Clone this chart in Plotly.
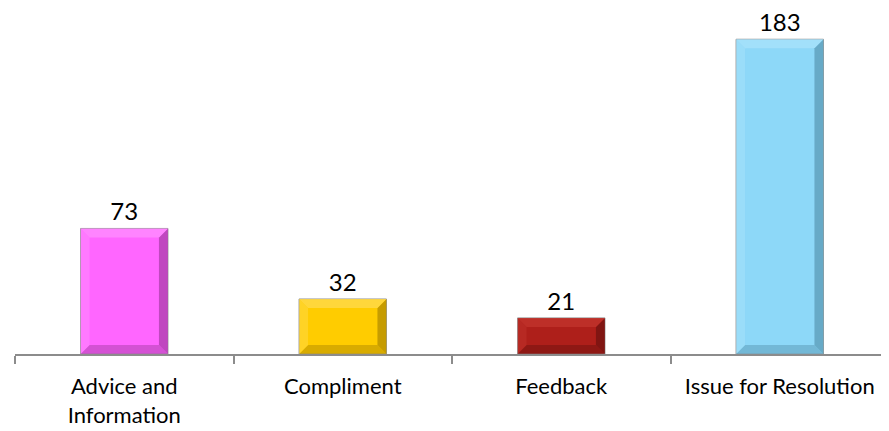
import plotly.graph_objects as go

categories = ["Advice and<br>Information", "Compliment", "Feedback", "Issue for Resolution"]
values = [73, 32, 21, 183]
colors = ["#FF66FF", "#FFCC00", "#AE1F1A", "#8DD8F8"]
dark_colors = ["#B040B0", "#B89000", "#741310", "#5E9FBA"]
light_colors = ["#FF8CFF", "#FFDA4A", "#C0332C", "#A8E2FA"]

W, H = 881, 423
ML, MR, MT, MB = 7, 0, 2, 77
YMAX = 200
BAR_W = 0.4

fig = go.Figure(go.Bar(
    x=list(range(len(categories))), y=values,
    marker=dict(color=colors, line=dict(color="#9A9A9A", width=1)),
    text=[str(v) for v in values], textposition="outside",
    textfont=dict(size=24, color="black", family="Lato"),
    cliponaxis=False, width=BAR_W,
))

# bevel decoration derived from the bar geometry
px_x = (W - ML - MR) / len(categories)
px_y = (H - MT - MB) / YMAX
bx = 9 / px_x
by = 9 / px_y
for i, v in enumerate(values):
    x0, x1 = i - BAR_W / 2, i + BAR_W / 2
    fig.add_shape(type="path", xref="x", yref="y",
                  path=f"M {x1},{0} L {x1},{v} L {x1-bx},{v-by} L {x1-bx},{by} Z",
                  fillcolor=dark_colors[i], line=dict(width=0), opacity=0.8)
    fig.add_shape(type="path", xref="x", yref="y",
                  path=f"M {x0},{0} L {x1},{0} L {x1-bx},{by} L {x0+bx},{by} Z",
                  fillcolor=dark_colors[i], line=dict(width=0), opacity=0.55)
    fig.add_shape(type="path", xref="x", yref="y",
                  path=f"M {x0},{v} L {x1},{v} L {x1-bx},{v-by} L {x0+bx},{v-by} Z",
                  fillcolor=light_colors[i], line=dict(width=0), opacity=0.8)
    fig.add_shape(type="path", xref="x", yref="y",
                  path=f"M {x0},{0} L {x0},{v} L {x0+bx},{v-by} L {x0+bx},{by} Z",
                  fillcolor=light_colors[i], line=dict(width=0), opacity=0.5)

fig.update_layout(
    width=W, height=H,
    margin=dict(l=ML, r=MR, t=MT, b=MB, autoexpand=False),
    paper_bgcolor="white", plot_bgcolor="white",
    showlegend=False,
    font=dict(family="Lato", size=22, color="black"),
)
fig.update_xaxes(range=[-0.5, len(categories) - 0.5],
                 tickmode="array", tickvals=list(range(len(categories))), ticktext=categories,
                 showline=True, linecolor="#8C8C8C", linewidth=1.5,
                 ticks="", automargin=False, ticklabelstandoff=12,
                 tickfont=dict(size=22, color="black"))
fig.update_xaxes(minor=dict(tickmode="array", tickvals=[i - 0.5 for i in range(len(categories) + 1)],
                            ticks="outside", ticklen=8, tickcolor="#8C8C8C", tickwidth=1.5))
fig.update_yaxes(range=[0, YMAX], visible=False, showgrid=False, automargin=False)
fig.write_html("out.html")
